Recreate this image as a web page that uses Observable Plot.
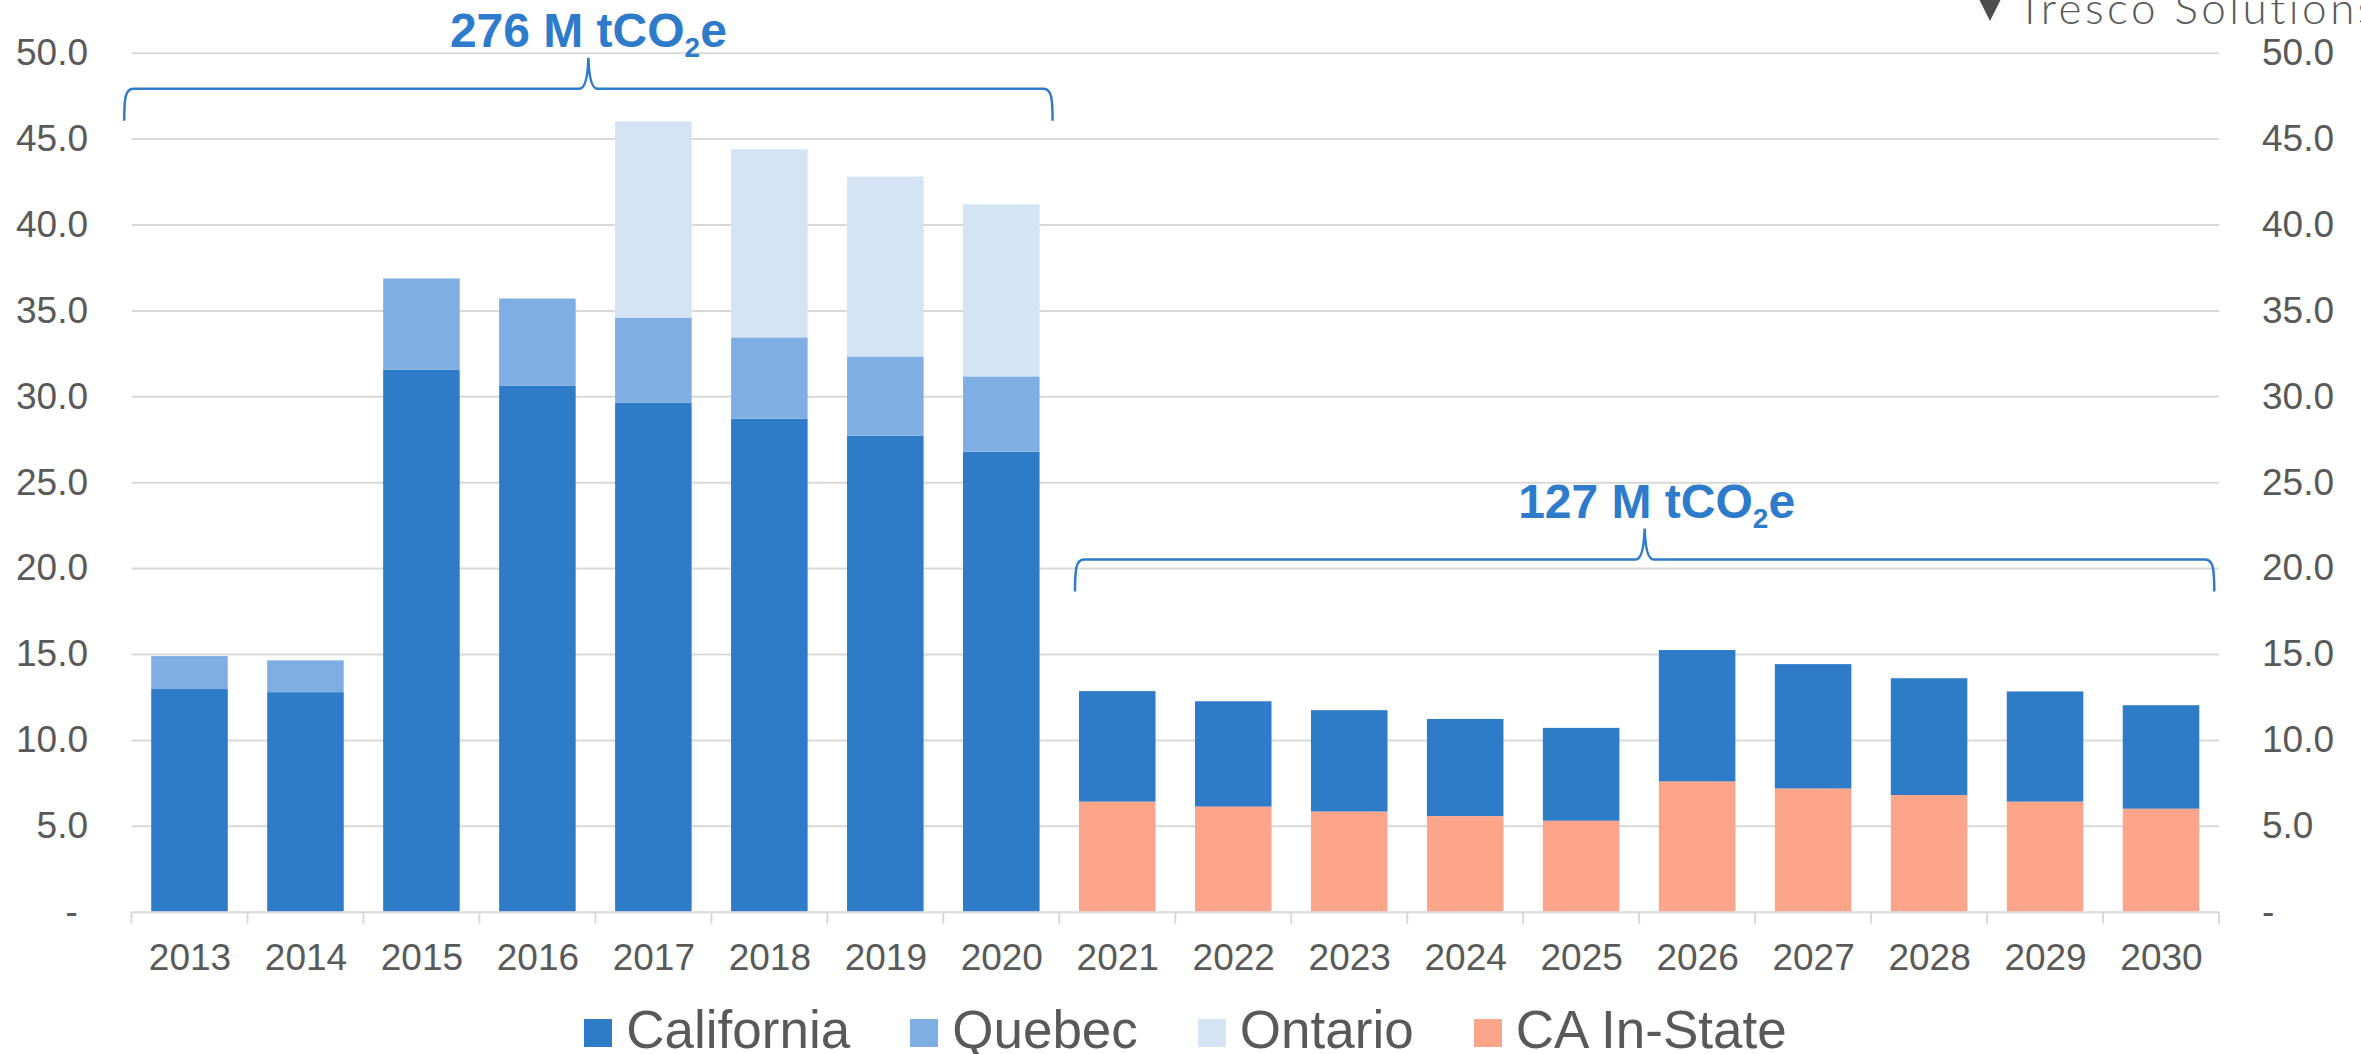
<!DOCTYPE html>
<html>
<head>
<meta charset="utf-8">
<script src="https://cdn.jsdelivr.net/npm/d3@7"></script>
<script src="https://cdn.jsdelivr.net/npm/@observablehq/plot@0.6"></script>
<style>
  html, body { margin: 0; padding: 0; background: #ffffff; overflow: hidden; }
  #wrap { position: relative; width: 2361px; height: 1054px; overflow: hidden; font-family: "Liberation Sans", Arial, sans-serif; }
  #chart { position: absolute; left: 0; top: 0; }
  #legend { position: absolute; left: 0; top: 1003px; width: 2361px; display: flex; justify-content: center; padding-left: 10px; box-sizing: border-box;
            font-size: 53px; line-height: 54px; color: #595959; white-space: nowrap; }
  #legend .item { display: flex; align-items: center; margin: 0 30px; }
  #legend .sw { width: 28px; height: 28px; margin-right: 14px; margin-top: 6px; }
  #logo { position: absolute; left: 1977px; top: -16px; white-space: nowrap; color: #5a5a5a;
          font-family: "Lato", "Open Sans", sans-serif; font-weight: 300; font-size: 44px; line-height: 46px; letter-spacing: 3.5px; display: flex; align-items: flex-end; }
  #logo svg { margin-right: 14px; margin-bottom: 9px; }
</style>
</head>
<body>
<div id="wrap">
  <div id="chart"></div>
  <div id="legend"></div>
  <div id="logo"><svg width="26" height="30" viewBox="0 0 26 30"><path d="M0,4 L26,4 L13,30 Z" fill="#4d4d4d"/><circle cx="13" cy="3" r="3" fill="#8dc63f"/></svg><span>Tresco Solutions</span></div>
</div>
<script>
// ---- Data (million tCO2e) ----
const years = ["2013","2014","2015","2016","2017","2018","2019","2020","2021","2022","2023","2024","2025","2026","2027","2028","2029","2030"];
const california = [12.96, 12.78, 31.56, 30.63, 29.64, 28.70, 27.70, 26.78, 6.44, 6.14, 5.91, 5.66, 5.41, 7.66, 7.25, 6.80, 6.42, 6.03];
const quebec     = [1.92, 1.85, 5.30, 5.06, 4.94, 4.73, 4.62, 4.38, 0, 0, 0, 0, 0, 0, 0, 0, 0, 0];
const ontario    = [0, 0, 0, 0, 11.42, 10.95, 10.47, 10.01, 0, 0, 0, 0, 0, 0, 0, 0, 0, 0];
const caInState  = [0, 0, 0, 0, 0, 0, 0, 0, 6.40, 6.11, 5.82, 5.56, 5.29, 7.57, 7.16, 6.79, 6.40, 5.99];

const seriesNames  = ["California", "Quebec", "Ontario", "CA In-State"];
const seriesColors = ["#2e7bc8", "#7fafe2", "#d5e4f4", "#fda58b"];
const stackOrder   = ["CA In-State", "California", "Quebec", "Ontario"];
const yTicks = [0, 5, 10, 15, 20, 25, 30, 35, 40, 45, 50];

// Bracket annotations: year ranges and vertical level (data units)
const groups = [
  {from: "2013", to: "2020", level: 47.9, padLeft: -27, padRight: 13, dx: 0},
  {from: "2021", to: "2030", level: 20.5, padLeft: -4, padRight: 15, dx: 12}
];

const valuesBySeries = {"California": california, "Quebec": quebec, "Ontario": ontario, "CA In-State": caInState};
const rows = years.flatMap((yr, i) => seriesNames.map(s => ({year: yr, series: s, value: valuesBySeries[s][i]})));

const W = 2361, H = 1000;
const font = "'Liberation Sans', Arial, sans-serif";
const grey = "#595959";

const plot = Plot.plot({
  width: W, height: H,
  marginTop: 52.7, marginBottom: H - 911.7, marginLeft: 131.5, marginRight: W - 2219,
  style: {fontFamily: font, background: "#ffffff", overflow: "visible"},
  x: {type: "band", domain: years, paddingInner: 0.34, paddingOuter: 0.17, round: false, axis: null},
  y: {domain: [0, 50], axis: null},
  color: {domain: seriesNames, range: seriesColors},
  marks: [
    Plot.ruleY(yTicks.filter(d => d > 0), {stroke: "#d9d9d9", strokeWidth: 2}),
    Plot.barY(rows, {x: "year", y: "value", fill: "series", order: stackOrder}),
    Plot.ruleY([0], {stroke: "#d9d9d9", strokeWidth: 2}),
    Plot.axisY({anchor: "left", label: null, ticks: yTicks, tickSize: 0, tickPadding: 44, fontSize: 37, fill: grey,
                tickFormat: d => d === 0 ? "-\u2008" : d.toFixed(1)}),
    Plot.axisY({anchor: "right", label: null, ticks: yTicks, tickSize: 0, tickPadding: 42.5, fontSize: 37, fill: grey,
                tickFormat: d => d === 0 ? "-" : d.toFixed(1)}),
    Plot.axisX({label: null, tickSize: 0, tickPadding: 32, fontSize: 37, fill: grey})
  ]
});
document.getElementById("chart").append(plot);

// ---- Annotations through the plot's scales ----
const xs = plot.scale("x"), ys = plot.scale("y");
const step = xs.step, bw = xs.bandwidth, off = (step - bw) / 2;
const svg = d3.select(plot);

// category boundary ticks below the baseline
const y0 = ys.apply(0);
const bounds = years.map(yr => xs.apply(yr) - off).concat([xs.apply(years[years.length - 1]) - off + step]);
svg.append("g").selectAll("line").data(bounds).join("line")
  .attr("x1", d => d).attr("x2", d => d)
  .attr("y1", y0).attr("y2", y0 + 12)
  .attr("stroke", "#d9d9d9").attr("stroke-width", 2);

// curly brackets + totals
const blue = "#2e7bcb";
const g = svg.append("g");
groups.forEach(gr => {
  const i0 = years.indexOf(gr.from), i1 = years.indexOf(gr.to);
  const total = rows.filter(r => { const k = years.indexOf(r.year); return k >= i0 && k <= i1; })
                    .reduce((a, r) => a + r.value, 0);
  const x0 = xs.apply(gr.from) + gr.padLeft;
  const x1 = xs.apply(gr.to) + bw + gr.padRight;
  const xm = (x0 + x1) / 2;
  const yl = ys.apply(gr.level);
  const yEnd = yl + 32, yPk = yl - 31;
  const p = `M${x0},${yEnd} C${x0},${yl + 10} ${x0 + 1},${yl} ${x0 + 9},${yl}
             L${xm - 9},${yl} Q${xm - 1},${yl} ${xm},${yPk} Q${xm + 1},${yl} ${xm + 9},${yl}
             L${x1 - 9},${yl} C${x1 - 1},${yl} ${x1},${yl + 10} ${x1},${yEnd}`;
  g.append("path").attr("d", p).attr("fill", "none").attr("stroke", blue).attr("stroke-width", 2.5);
  const t = g.append("text").attr("x", xm + gr.dx).attr("y", yPk - 11)
    .attr("text-anchor", "middle").attr("font-family", font).attr("font-weight", "bold")
    .attr("font-size", 48).attr("fill", blue);
  t.append("tspan").text(`${Math.round(total)} M tCO`);
  t.append("tspan").attr("font-size", 28).attr("dy", 10).text("2");
  t.append("tspan").attr("dy", -10).text("e");
});

// ---- Legend ----
const legend = d3.select("#legend");
seriesNames.forEach((s, i) => {
  const it = legend.append("div").attr("class", "item");
  it.append("div").attr("class", "sw").style("background", seriesColors[i]);
  it.append("span").text(s);
});
</script>
</body>
</html>
